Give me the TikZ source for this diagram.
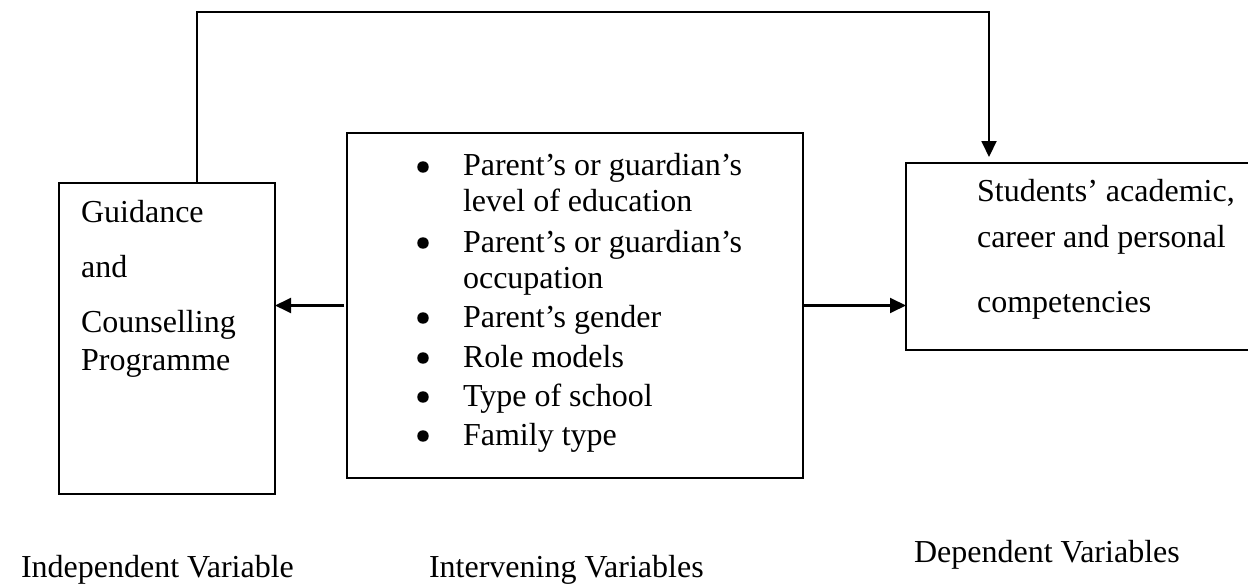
\documentclass[tikz,border=0pt]{standalone}
\usepackage{fontspec}
\setmainfont{Liberation Serif}
\usepackage{tikz}
\usetikzlibrary{arrows.meta}

\begin{document}
\begin{tikzpicture}[x=0.375pt, y=-0.375pt, line width=0.8pt,
    box/.style={draw, inner sep=0pt, outer sep=0pt},
    txt/.style={anchor=base west, inner sep=0pt, font=\fontsize{12}{13.9}\selectfont},
    dot/.style={circle, fill, inner sep=0pt, minimum size=4.3pt},
    arr/.style={-{Triangle[length=6pt,width=5.6pt]}}]
    \useasboundingbox (0,0) rectangle (1248,587);

    % Boxes
    \node[box, minimum width=81pt, minimum height=116.6pt] (indep) at (167,338.5) {};
    \node[box, minimum width=171pt, minimum height=129.4pt] (interv) at (575,305.5) {};
    \node[box, minimum width=129.75pt, minimum height=70.1pt] (dep) at (1079,256.5) {};

    % Feedback line over the top
    \coordinate (fbL) at (197,12);
    \coordinate (fbR) at (989,12);
    \draw[arr, shorten >=2.25pt] (indep.north -| fbL) |- (fbR) -- (fbR |- dep.north);

    % Side arrows
    \draw[arr, shorten <=1.1pt] (interv.west) -- (interv.west -| indep.east);
    \draw[arr] (interv.east) -- (interv.east -| dep.west);

    % Left box text
    \node[txt] (g1) at (80,223) {Guidance};
    \node[txt] (g2) at (80,278) {and};
    \node[txt] (g3) at (80,333) {Counselling};
    \node[txt] (g4) at (80,371) {Programme};

    % Middle box list
    \node[dot] (b1) at (423,167) {};
    \node[txt] (l1) at (462,176) {Parent's or guardian's};
    \node[txt] (l2) at (462,212) {level of education};
    \node[dot] (b2) at (423,243) {};
    \node[txt] (l3) at (462,253) {Parent's or guardian's};
    \node[txt] (l4) at (462,289) {occupation};
    \node[dot] (b3) at (423,318) {};
    \node[txt] (l5) at (462,328) {Parent's gender};
    \node[dot] (b4) at (423,358) {};
    \node[txt] (l6) at (462,368) {Role models};
    \node[dot] (b5) at (423,397) {};
    \node[txt] (l7) at (462,407) {Type of school};
    \node[dot] (b6) at (423,436) {};
    \node[txt] (l8) at (462,446) {Family type};

    % Right box text
    \node[txt] (d1) at (976,202) {Students' academic,};
    \node[txt] (d2) at (976,248) {career and personal};
    \node[txt] (d3) at (976,313) {competencies};

    % Labels underneath
    \node[txt] (lab1) at (20,577) {Independent Variable};
    \node[txt] (lab2) at (428,577) {Intervening Variables};
    \node[txt] (lab3) at (913,562) {Dependent Variables};
\end{tikzpicture}
\end{document}
